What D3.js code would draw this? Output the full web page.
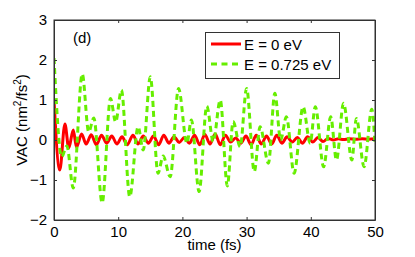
<!DOCTYPE html>
<html>
<head>
<meta charset="utf-8">
<script src="https://cdn.jsdelivr.net/npm/d3@7"></script>
<style>
  body { margin: 0; background: white; }
  text { font-family: "Liberation Sans", Arial, sans-serif; fill: #000; }
</style>
</head>
<body>
<script>
// E = 0 eV  (turning points)
const tRed = [0, 0.9, 1.7, 2.3, 3.0, 3.5, 4.3, 5.0, 5.8, 6.6, 7.4, 8.2, 9.0, 9.8, 10.6, 11.4, 12.3, 13.1, 13.9, 14.7,
              15.5, 16.3, 17.1, 17.9, 18.7, 19.5, 20.3, 21.1, 21.9, 22.7, 23.5, 24.3, 25.1, 25.9, 26.7, 27.5, 28.3, 29.1,
              29.9, 30.7, 31.5, 32.3, 33.1, 33.9, 34.7, 35.5, 36.3, 37.1, 37.9, 38.7, 39.5, 40.3, 41.1, 41.9, 42.7, 43.5,
              44.3, 45.1, 46, 47, 48, 49, 50];
const vRed = [1.0, -0.75, 0.4, -0.2, 0.25, -0.18, 0.15, -0.1, 0.13, -0.12, 0.12, -0.08, 0.1, -0.1, 0.08, -0.12, 0.12, -0.1, 0.1, -0.08,
              0.1, -0.12, 0.12, -0.08, 0.08, -0.06, 0.06, -0.08, 0.12, -0.12, 0.14, -0.1, 0.15, -0.12, 0.12, -0.05, 0.05, -0.08,
              0.1, -0.12, 0.12, -0.1, 0.1, -0.1, 0.12, -0.08, 0.08, -0.05, 0.06, -0.08, 0.08, -0.05, 0.06, -0.04, 0.04, 0.0,
              0.03, 0.01, 0.03, 0.02, 0.03, 0.02, 0.03];

// E = 0.725 eV
const tGreen = [0, 1.2, 2.0, 3.0, 4.4, 5.4, 6.2, 7.5, 8.8, 9.6, 10.5, 11.8, 13.1, 13.9, 15.0, 16.2, 17.0, 18.1, 19.4, 20.7,
                21.4, 22.6, 23.8, 24.8, 25.9, 27.0, 27.9, 29.0, 30.0, 31.2, 32.1, 33.4, 34.4, 35.3, 36.2, 37.4, 38.8, 39.9,
                40.7, 42.0, 43.1, 44.0, 45.1, 46.4, 47.1, 48.3, 49.5, 50];
const vGreen = [2.05, -0.42, -0.15, -1.2, 1.65, 0.2, 0.55, -1.57, 1.04, 0.45, 1.25, -1.42, 0.33, -0.25, 1.58, -0.83, -0.4, -0.92, 1.29, -0.08,
                0.5, -1.29, 0.85, -0.04, 1.0, -1.15, 0.46, -0.17, 1.29, -0.79, 0.33, -0.58, 1.17, 0.0, 0.58, -0.83, 0.83, -0.08,
                0.83, -0.67, 0.58, -0.5, 0.92, -0.5, 0.54, -0.67, 0.77, -0.12];

const xTicks = [0, 10, 20, 30, 40, 50];
const yTicks = [-2, -1, 0, 1, 2, 3];
const legendLabels = ["E = 0 eV", "E = 0.725 eV"];

const W = 415, H = 257;
const mLeft = 54, mTop = 20, mRight = 375, mBottom = 220;
const red = "#ff0000", green = "#66ee00";

const svg = d3.select("body").append("svg")
    .attr("width", W)
    .attr("height", H);

const x = d3.scaleLinear().domain([0, 50]).range([mLeft, mRight]);
const y = d3.scaleLinear().domain([-2, 3]).range([mBottom, mTop]);

svg.append("clipPath").attr("id", "plot")
    .append("rect")
    .attr("x", mLeft).attr("y", mTop)
    .attr("width", mRight - mLeft).attr("height", mBottom - mTop);

const line = d3.line()
    .x(d => x(d[0]))
    .y(d => y(d[1]))
    .curve(d3.curveMonotoneX);

const plot = svg.append("g").attr("clip-path", "url(#plot)");

plot.append("path")
    .datum(tRed.map((t, i) => [t, vRed[i]]))
    .attr("d", line)
    .style("fill", "none")
    .style("stroke", red)
    .style("stroke-width", 3)
    .style("stroke-linejoin", "round");

plot.append("path")
    .datum(tGreen.map((t, i) => [t, vGreen[i]]))
    .attr("d", line)
    .style("fill", "none")
    .style("stroke", green)
    .style("stroke-width", 3)
    .style("stroke-dasharray", "6,4");

// axes, matlab style box with inward ticks
const tickLen = 3;
svg.append("g")
    .attr("transform", `translate(0,${mBottom})`)
    .call(d3.axisBottom(x).tickValues(xTicks).tickSizeInner(-tickLen).tickSizeOuter(0).tickPadding(6))
    .call(g => g.selectAll("text").style("font-size", "15px").attr("dy", "0.75em"));
svg.append("g")
    .attr("transform", `translate(0,${mTop})`)
    .call(d3.axisTop(x).tickValues(xTicks).tickSizeInner(-tickLen).tickSizeOuter(0).tickFormat(""));
svg.append("g")
    .attr("transform", `translate(${mLeft},0)`)
    .call(d3.axisLeft(y).tickValues(yTicks).tickSizeInner(-tickLen).tickSizeOuter(0).tickPadding(7)
        .tickFormat(d => d < 0 ? "\u2212" + Math.abs(d) : d))
    .call(g => g.selectAll("text").style("font-size", "15px"));
svg.append("g")
    .attr("transform", `translate(${mRight},0)`)
    .call(d3.axisRight(y).tickValues(yTicks).tickSizeInner(-tickLen).tickSizeOuter(0).tickFormat(""));

svg.selectAll(".domain, .tick line")
    .style("stroke", "#333")
    .style("stroke-width", 1);
svg.selectAll(".tick text").style("font-family", "'Liberation Sans', Arial, sans-serif").style("fill", "#000");

svg.append("rect")
    .attr("x", mLeft).attr("y", mTop)
    .attr("width", mRight - mLeft).attr("height", mBottom - mTop)
    .style("fill", "none")
    .style("stroke", "#333")
    .style("stroke-width", 1);

// labels
svg.append("text")
    .attr("x", (mLeft + mRight) / 2)
    .attr("y", 250)
    .attr("text-anchor", "middle")
    .style("font-size", "15px")
    .text("time (fs)");

const yl = svg.append("text")
    .attr("transform", `translate(27,${(mTop + mBottom) / 2}) rotate(-90)`)
    .attr("text-anchor", "middle")
    .style("font-size", "15px");
yl.append("tspan").text("VAC (nm");
yl.append("tspan").attr("dy", -6).style("font-size", "10px").text("2");
yl.append("tspan").attr("dy", 6).text("/fs");
yl.append("tspan").attr("dy", -6).style("font-size", "10px").text("2");
yl.append("tspan").attr("dy", 6).text(")");

svg.append("text")
    .attr("x", 73)
    .attr("y", 43)
    .style("font-size", "15px")
    .text("(d)");

// legend
const lg = svg.append("g");
lg.append("rect")
    .attr("x", 205.5).attr("y", 32.5)
    .attr("width", 134).attr("height", 46)
    .style("fill", "white")
    .style("stroke", "#333")
    .style("stroke-width", 1);

const legendItems = lg.selectAll(".item")
    .data(legendLabels)
    .join("g")
    .attr("class", "item")
    .attr("transform", (d, i) => `translate(0,${44 + i * 20})`);

legendItems.append("line")
    .attr("x1", 211).attr("x2", 241)
    .attr("y1", 0).attr("y2", 0)
    .style("stroke", (d, i) => i === 0 ? red : green)
    .style("stroke-width", 3)
    .style("stroke-dasharray", (d, i) => i === 0 ? null : "6,4.5");

legendItems.append("text")
    .attr("x", 244)
    .attr("y", 5.5)
    .style("font-size", "15px")
    .text(d => d);
</script>
</body>
</html>
